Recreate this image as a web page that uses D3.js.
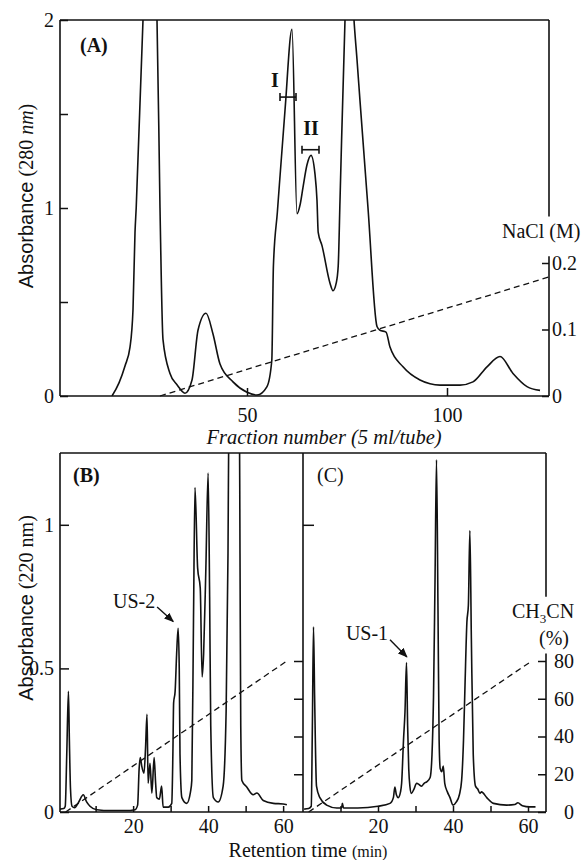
<!DOCTYPE html>
<html>
<head>
<meta charset="utf-8">
<script src="https://cdn.jsdelivr.net/npm/d3@7"></script>
<style>
  body { margin: 0; background: #fff; }
  svg { display: block; }
  text { font-family: "Liberation Serif", "Times New Roman", serif; fill: #111; }
  .sans { font-family: "Liberation Sans", Arial, sans-serif; }
  .curve { fill: none; stroke: #111; stroke-width: 1.6; stroke-linejoin: round; }
  .grad { fill: none; stroke: #111; stroke-width: 1.3; stroke-dasharray: 6 4; }
  .frame { stroke: #111; stroke-width: 1.6; fill: none; }
  .axis line { stroke: #111; stroke-width: 1.5; }
  .axis text { font-size: 20px; }
</style>
</head>
<body>
<svg id="chart" width="583" height="860"></svg>
<script>
(function () {
  "use strict";

  // (A) ion-exchange elution, absorbance at 280 nm per fraction
  const fracA = [16.25, 18, 19.5, 20.75, 21.5, 22, 22.3, 24, 25.7, 27.5, 28.25, 29, 30.75, 32.5, 34.5,
    36.25, 37.75, 39.75, 41.5, 43.25, 46.5, 50, 52.5, 55, 56.2, 56.6, 57.6, 59.5, 61.25, 62.5, 63.3, 64, 65,
    66, 67, 67.5, 67.8, 68.75, 70.75, 71.5, 72.3, 72.8, 73.25, 74.5, 75.6, 76.75, 77.5, 78.25, 80.25,
    82.5, 83.25, 84.75, 85.75, 89, 93.25, 98.25, 103.25, 106.5, 110, 113.25, 116.5, 120, 123.25];
  const absA = [0, 0.07, 0.16, 0.26, 0.46, 0.87, 1.0, 2.0, 2.6, 2.0, 1.0, 0.3, 0.12, 0.06, 0.015,
    0.085, 0.35, 0.44, 0.33, 0.17, 0.075, 0.02, 0.005, 0.05, 0.19, 0.69, 0.98, 1.52, 1.95, 0.97, 1.02, 1.11, 1.23,
    1.28, 1.18, 1.04, 0.87, 0.8, 0.6, 0.56, 0.6, 0.69, 1.04, 2.0, 2.5, 2.0, 1.79, 1.57, 1.0,
    0.37, 0.35, 0.34, 0.26, 0.155, 0.085, 0.058, 0.058, 0.075, 0.155, 0.21, 0.12, 0.05, 0.03];
  const gradAFrac = [28.25, 125.5];
  const gradANaCl = [0, 0.179];
  const poolA = [
    { name: "I", from: 58.25, to: 62.25, at: 1.59, labelX: 57, labelY: 1.68 },
    { name: "II", from: 63.75, to: 68, at: 1.31, labelX: 66, labelY: 1.425 },
  ];

  // (B) HPLC of pool I, absorbance at 220 nm
  const timeB = [0.5, 1.5, 1.9, 2.3, 2.75, 3.0, 3.3, 3.7, 4.4, 5.5, 6.7, 7.6, 8.5, 10.3, 14, 18, 20.5,
    21.2, 21.6, 21.9, 22.3, 22.9, 23.3, 23.7, 24.0, 24.5, 25.0, 25.6, 26.0, 26.3, 27.0, 27.6, 28.0, 29.4,
    30.3, 30.6, 30.8, 31.2, 31.6, 32.0, 32.3, 32.5, 33.0, 34.3, 35.3, 35.65, 36.1, 36.5, 37.2, 37.9,
    38.4, 38.8, 39.4, 40.0, 40.4, 40.7, 41.4, 42.7, 44.0, 44.8, 45.3, 45.6, 47.0, 48.3, 48.5, 48.7,
    49.0, 50.3, 52, 53, 54.7, 57.4, 60, 61];
  const absB = [0.01, 0.012, 0.02, 0.2, 0.42, 0.25, 0.08, 0.02, 0.015, 0.035, 0.06, 0.035, 0.02, 0.008, 0.005, 0.005, 0.008,
    0.024, 0.15, 0.19, 0.16, 0.135, 0.22, 0.34, 0.1, 0.17, 0.066, 0.19, 0.1, 0.05, 0.045, 0.09, 0.017, 0.017,
    0.03, 0.2, 0.38, 0.42, 0.55, 0.64, 0.5, 0.2, 0.05, 0.03, 0.07, 0.11, 0.67, 1.13, 0.85, 0.78,
    0.47, 0.55, 0.85, 1.18, 0.75, 0.3, 0.05, 0.035, 0.09, 0.35, 0.9, 1.5, 1.9, 1.5, 0.9, 0.3,
    0.11, 0.087, 0.06, 0.066, 0.04, 0.03, 0.028, 0.025];
  const gradBTime = [2, 61];
  const gradBAcn = [0, 80];

  // (C) HPLC of pool II
  const timeC = [0.3, 1.5, 2.2, 2.5, 2.8, 3.1, 3.6, 4.5, 6.3, 9, 10.3, 10.5, 10.8, 14.6, 20, 23.2, 24.1,
    24.5, 24.9, 25.4, 26.0, 26.3, 26.8, 27.2, 27.6, 27.9, 28.2, 28.5, 28.9, 29.6, 30.3, 31.0, 31.6, 32.3,
    33, 33.9, 34.4, 34.8, 35.2, 35.6, 36.0, 36.3, 36.6, 37.0, 37.4, 37.8, 38.5, 39.2, 40, 40.9, 41.7,
    42.3, 42.8, 43.2, 43.7, 44.1, 44.5, 44.9, 45.4, 46, 46.6, 47.2, 47.6, 49, 50.8, 54.3, 56.5, 57.3,
    58.5, 60.5, 62];
  const absC = [0.01, 0.012, 0.02, 0.3, 0.645, 0.4, 0.09, 0.05, 0.024, 0.014, 0.014, 0.03, 0.014, 0.014, 0.02, 0.03, 0.05,
    0.087, 0.06, 0.05, 0.07, 0.1, 0.25, 0.35, 0.52, 0.3, 0.15, 0.09, 0.065, 0.08, 0.1, 0.095, 0.09, 0.1,
    0.105, 0.12, 0.2, 0.4, 0.8, 1.226, 0.7, 0.25, 0.15, 0.14, 0.16, 0.1, 0.07, 0.05, 0.024, 0.035, 0.06,
    0.11, 0.25, 0.44, 0.66, 0.72, 0.98, 0.6, 0.2, 0.09, 0.08, 0.065, 0.07, 0.05, 0.03, 0.024, 0.026, 0.032,
    0.022, 0.018, 0.018];
  const gradCTime = [1.5, 61];
  const gradCAcn = [0, 80];

  const ticksA = { left: [0, 0.5, 1, 1.5, 2], bottom: [50, 100], right: [0, 0.1, 0.2] };
  const ticksBC = { left: [0, 0.5, 1], time: [10, 20, 30, 40, 50, 60], acn: [0, 20, 40, 60, 80] };

  const svg = d3.select("#chart");

  const xA = d3.scaleLinear().domain([3.25, 125.5]).range([60, 549]);
  const yA = d3.scaleLinear().domain([0, 2]).range([396, 20]);
  const yNaCl = d3.scaleLinear().domain([0, 0.2]).range([396, 263]);
  const xB = d3.scaleLinear().domain([0.5, 65.3]).range([60, 303]);
  const xC = d3.scaleLinear().domain([0, 64.8]).range([303, 546]);
  const yBC = d3.scaleLinear().domain([0, 1.25]).range([812, 453]);
  const yAcn = d3.scaleLinear().domain([0, 80]).range([812, 661]);

  function zip(xs, ys) {
    return xs.map((x, i) => [x, ys[i]]);
  }

  function clipFor(id, x, y) {
    svg.append("clipPath").attr("id", id).append("rect")
      .attr("x", x.range()[0]).attr("y", y.range()[1])
      .attr("width", x.range()[1] - x.range()[0])
      .attr("height", y.range()[0] - y.range()[1]);
    return `url(#${id})`;
  }

  function drawCurve(x, y, xs, ys, clip) {
    const line = d3.line().x((d) => x(d[0])).y((d) => y(d[1])).curve(d3.curveMonotoneX);
    svg.append("path").attr("class", "curve").attr("clip-path", clip).attr("d", line(zip(xs, ys)));
  }

  function drawGradient(x, y, xs, ys) {
    const line = d3.line().x((d) => x(d[0])).y((d) => y(d[1]));
    svg.append("path").attr("class", "grad").attr("d", line(zip(xs, ys)));
  }

  function axis(gen, translate) {
    const g = svg.append("g").attr("class", "axis").attr("transform", translate).call(gen);
    g.select(".domain").remove();
    return g;
  }

  function vline(x, y0, y1) {
    svg.append("line").attr("class", "frame").attr("x1", x).attr("x2", x).attr("y1", y0).attr("y2", y1);
  }
  function hline(y, x0, x1) {
    svg.append("line").attr("class", "frame").attr("x1", x0).attr("x2", x1).attr("y1", y).attr("y2", y);
  }

  // ---------- panel A ----------
  const clipA = clipFor("clipA", xA, yA);
  drawGradient(xA, yNaCl, gradAFrac, gradANaCl);
  drawCurve(xA, yA, fracA, absA, clipA);

  axis(d3.axisLeft(yA).tickValues(ticksA.left).tickSize(-8).tickPadding(6)
    .tickFormat((d) => (Number.isInteger(d) ? d : "")), "translate(60,0)");
  axis(d3.axisBottom(xA).tickValues(ticksA.bottom).tickSize(-8).tickPadding(12), "translate(0,396)");
  axis(d3.axisRight(yNaCl).tickValues(ticksA.right).tickSize(-7).tickPadding(3)
    .tickFormat((d) => (d === 0 ? "0" : d3.format(".1f")(d))), "translate(549,0)");

  hline(yA(2), xA.range()[0], xA.range()[1]);
  hline(yA(0), xA.range()[0], xA.range()[1]);
  vline(xA.range()[0], yA(2), yA(0));
  vline(xA.range()[1], yA(2), yNaCl(0.27));
  vline(xA.range()[1], yNaCl(0.21), yA(0));

  poolA.forEach((p) => {
    const yy = yA(p.at);
    svg.append("line").attr("class", "frame").attr("x1", xA(p.from)).attr("x2", xA(p.to)).attr("y1", yy).attr("y2", yy);
    [p.from, p.to].forEach((f) => {
      svg.append("line").attr("class", "frame").attr("x1", xA(f)).attr("x2", xA(f)).attr("y1", yy - 4).attr("y2", yy + 4);
    });
    svg.append("text").attr("x", xA(p.labelX)).attr("y", yA(p.labelY)).attr("dy", "0.35em")
      .attr("text-anchor", "middle").attr("font-weight", "bold").attr("font-size", 20).text(p.name);
  });

  svg.append("text").attr("x", 80).attr("y", 52).attr("font-size", 20).attr("font-weight", "bold").text("(A)");
  svg.append("text").attr("x", 502).attr("y", 238).attr("font-size", 20).text("NaCl (M)");

  const ylabA = svg.append("text").attr("transform", "translate(33,196) rotate(-90)")
    .attr("text-anchor", "middle").attr("font-size", 20);
  ylabA.append("tspan").attr("class", "sans").text("Absorbance");
  ylabA.append("tspan").text(" (280 ");
  ylabA.append("tspan").attr("font-style", "italic").text("nm");
  ylabA.append("tspan").text(")");

  const xlabA = svg.append("text").attr("x", 324).attr("y", 444).attr("text-anchor", "middle")
    .attr("font-size", 20.5).attr("font-style", "italic");
  xlabA.append("tspan").text("Fraction number (5 ");
  xlabA.append("tspan").text("ml");
  xlabA.append("tspan").text("/tube)");

  // ---------- panels B and C ----------
  const clipB = clipFor("clipB", xB, yBC);
  const clipC = clipFor("clipC", xC, yBC);
  drawGradient(xB, yAcn, gradBTime, gradBAcn);
  drawGradient(xC, yAcn, gradCTime, gradCAcn);
  drawCurve(xB, yBC, timeB, absB, clipB);
  drawCurve(xC, yBC, timeC, absC, clipC);

  axis(d3.axisLeft(yBC).tickValues(ticksBC.left).tickSize(-9).tickPadding(6)
    .tickFormat((d) => d), "translate(60,0)");
  axis(d3.axisLeft(yBC).tickValues([1]).tickSize(-11).tickFormat(() => ""), "translate(303,0)");
  axis(d3.axisRight(yAcn).tickValues(ticksBC.acn.slice(1)).tickSize(-9).tickFormat(() => ""), "translate(303,0)");
  axis(d3.axisBottom(xB).tickValues(ticksBC.time).tickSize(-6).tickPadding(7)
    .tickFormat((d) => (d % 20 === 0 ? d : "")), "translate(0,812)");
  axis(d3.axisBottom(xC).tickValues(ticksBC.time).tickSize(-6).tickPadding(7)
    .tickFormat((d) => (d % 20 === 0 ? d : "")), "translate(0,812)");
  const acnAxis = axis(d3.axisRight(yAcn).tickValues(ticksBC.acn).tickSize(-8).tickPadding(28), "translate(546,0)");
  acnAxis.selectAll("text").attr("text-anchor", "end");

  hline(yBC(1.25), xB.range()[0], xC.range()[1]);
  hline(yBC(0), xB.range()[0], xC.range()[1]);
  vline(xB.range()[0], yBC(1.25), yBC(0));
  vline(xB.range()[1], yBC(1.25), yBC(0));
  vline(xC.range()[1], yBC(1.25), yAcn(114));
  vline(xC.range()[1], yAcn(84), yBC(0));

  svg.append("text").attr("x", 73).attr("y", 482).attr("font-size", 20).attr("font-weight", "bold").text("(B)");
  svg.append("text").attr("x", 317).attr("y", 482).attr("font-size", 20).text("(C)");

  svg.append("defs").append("marker").attr("id", "arrow")
    .attr("viewBox", "0 0 10 10").attr("refX", 9).attr("refY", 5)
    .attr("markerWidth", 7).attr("markerHeight", 7).attr("orient", "auto")
    .append("path").attr("d", "M0,1 L10,5 L0,9 z").attr("fill", "#111");

  function callout(x, y, label, tx, ty, ax0, ay0, ax1, ay1) {
    svg.append("text").attr("x", x(tx)).attr("y", y(ty)).attr("dy", "0.35em")
      .attr("text-anchor", "end").attr("font-size", 20).text(label);
    svg.append("line").attr("x1", x(ax0)).attr("y1", y(ay0)).attr("x2", x(ax1)).attr("y2", y(ay1))
      .attr("stroke", "#111").attr("stroke-width", 1.4).attr("marker-end", "url(#arrow)");
  }
  callout(xB, yBC, "US-2", 25.9, 0.735, 26.4, 0.714, 30.7, 0.663);
  callout(xC, yBC, "US-1", 22.7, 0.624, 23.2, 0.6, 27.7, 0.54);

  const acnLab = svg.append("text").attr("x", 512).attr("y", 618).attr("font-size", 20);
  acnLab.append("tspan").text("CH");
  acnLab.append("tspan").attr("font-size", 13).attr("dy", 5).text("3");
  acnLab.append("tspan").attr("dy", -5).text("CN");
  svg.append("text").attr("x", 554).attr("y", 645).attr("text-anchor", "middle").attr("font-size", 20).text("(%)");

  const ylabB = svg.append("text").attr("transform", "translate(33,608) rotate(-90)")
    .attr("text-anchor", "middle").attr("font-size", 20);
  ylabB.append("tspan").attr("class", "sans").text("Absorbance");
  ylabB.append("tspan").text(" (220 nm)");

  const xlabB = svg.append("text").attr("x", 308).attr("y", 857).attr("text-anchor", "middle").attr("font-size", 20);
  xlabB.append("tspan").text("Retention time ");
  xlabB.append("tspan").attr("font-size", 16).text("(min)");
})();
</script>
</body>
</html>
